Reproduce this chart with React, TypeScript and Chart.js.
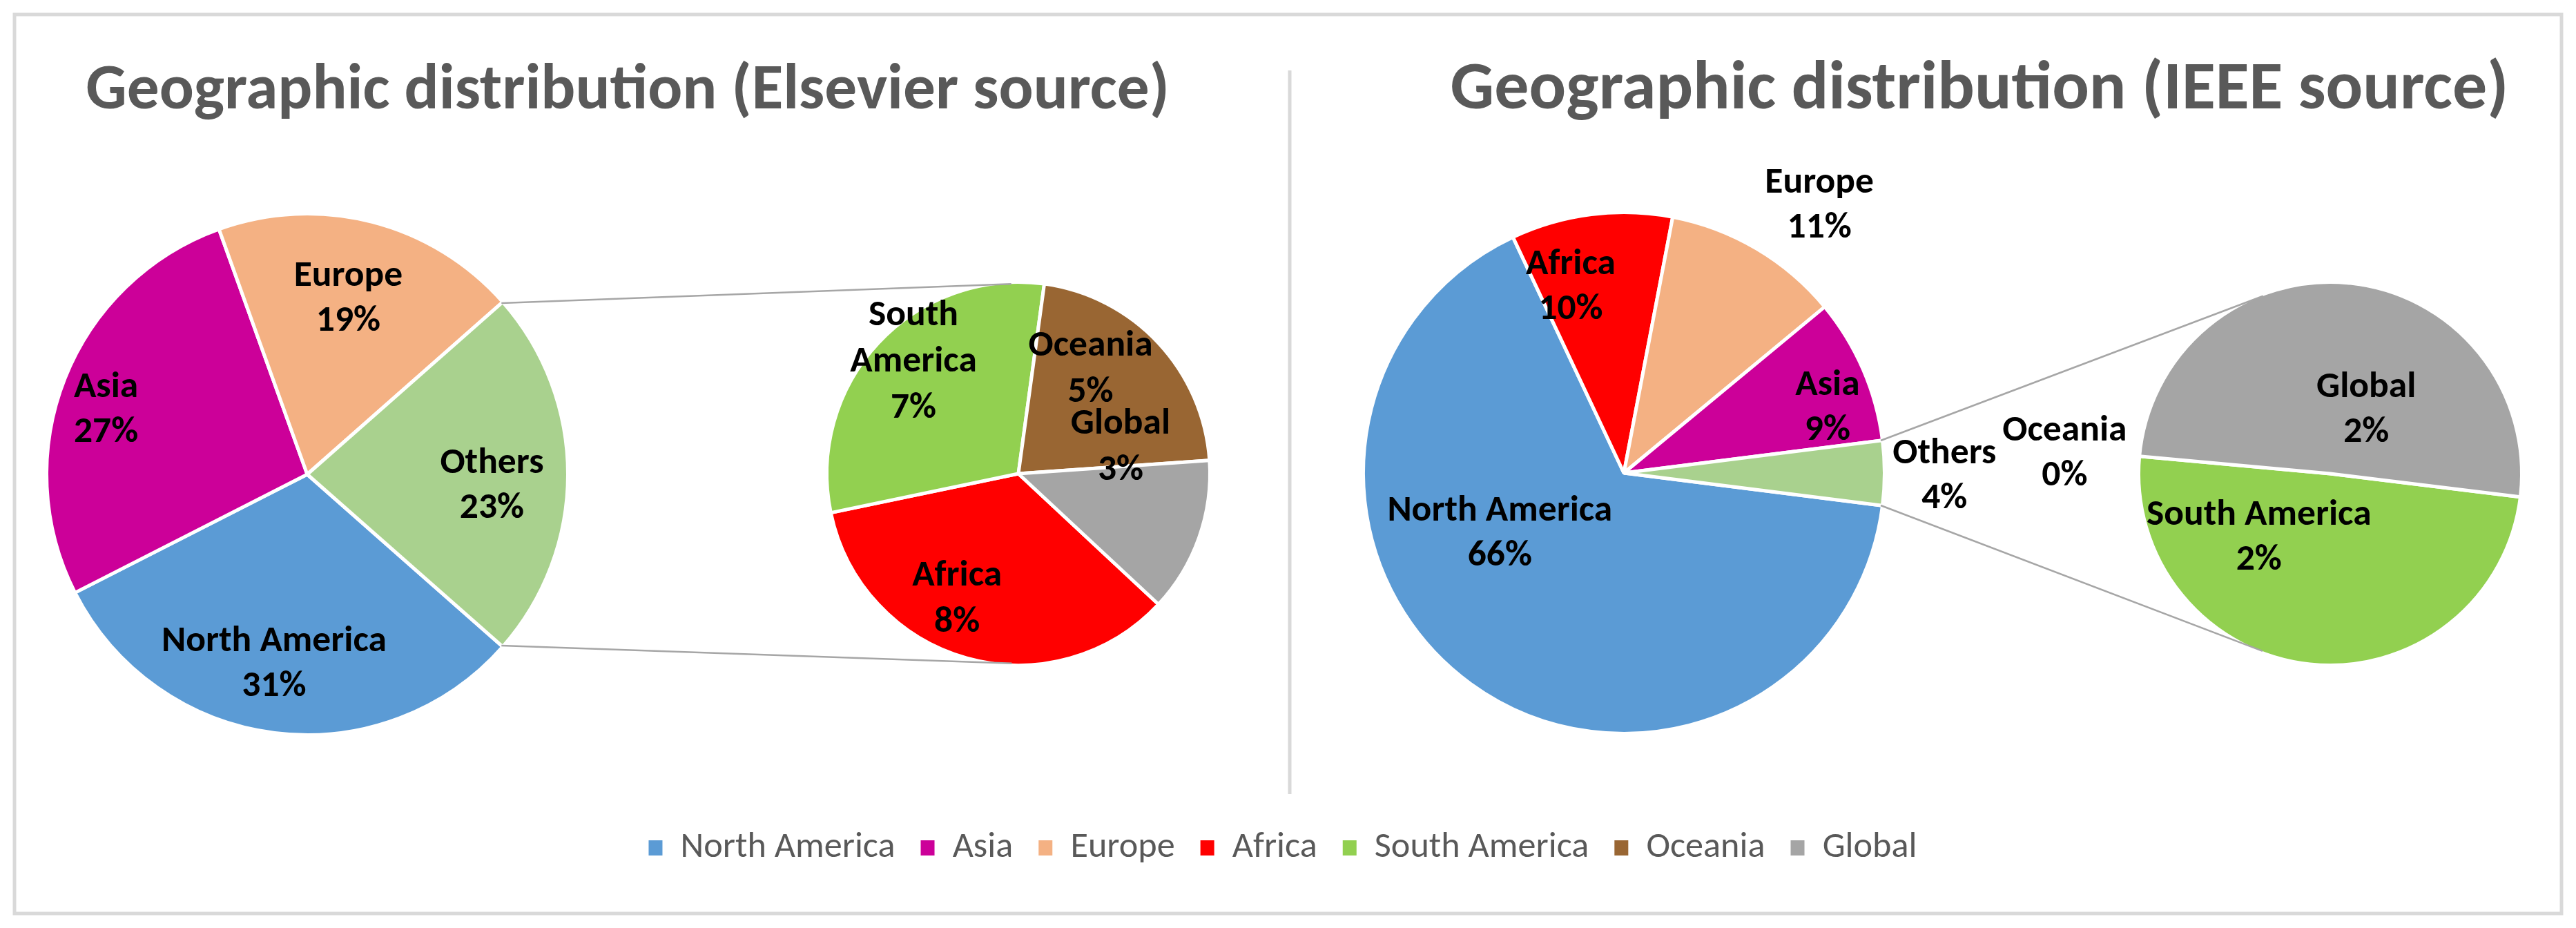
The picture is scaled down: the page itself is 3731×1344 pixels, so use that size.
import React, { useEffect, useRef } from "react";
import { Chart, registerables } from "chart.js";

Chart.register(...registerables);

const W = 3731;
const H = 1344;
const FONT = "Carlito, Lato, 'Open Sans', sans-serif";

// ---------- data ----------
const titles = [
  "Geographic distribution (Elsevier source)",
  "Geographic distribution (IEEE source)",
];

const elsPrimaryLabels = ["North America", "Asia", "Europe", "Others"];
const elsPrimaryValues = [31, 27, 19, 23];
const elsSecondaryLabels = ["Africa", "South America", "Oceania", "Global"];
const elsSecondaryValues = [8, 7, 5, 3];

const ieeePrimaryLabels = ["North America", "Africa", "Europe", "Asia", "Others"];
const ieeePrimaryValues = [66, 10, 11, 9, 4];
const ieeeSecondaryLabels = ["South America", "Oceania", "Global"];
const ieeeSecondaryValues = [1.98, 0, 2.02];

const legendLabels = ["North America", "Asia", "Europe", "Africa", "South America", "Oceania", "Global"];

const COLORS: Record<string, string> = {
  "North America": "#5B9BD5",
  Asia: "#CC0099",
  Europe: "#F4B183",
  Africa: "#FF0000",
  "South America": "#92D050",
  Oceania: "#996633",
  Global: "#A5A5A5",
  Others: "#A9D18E",
};

// label placement: [fraction of radius, angular shift from slice middle in degrees]
const elsPrimaryLabelPos = [[0.74, 2.7], [0.81, -4], [0.69, -1.2], [0.71, 3.7]];
const elsSecondaryLabelPos = [[0.73, 10.4], [0.8, 3.8], [0.66, -12.1], [0.55, -33.7]];
const ieeePrimaryLabelPos = [[0.53, 27.9], [0.74, -8.8], [1.27, 5.6], [0.82, 5.7], [1.23, 0.6]];
const ieeeSecondaryLabelPos = [[0.5, 42], [1.39, -0.9], [0.38, 23.6]];

type Geo = { cx: number; cy: number; r: number };
const GEO_ELS_MAIN: Geo = { cx: 445, cy: 687, r: 375 };
const GEO_ELS_SEC: Geo = { cx: 1475, cy: 686, r: 275 };
const GEO_IEEE_MAIN: Geo = { cx: 2352, cy: 685, r: 375 };
const GEO_IEEE_SEC: Geo = { cx: 3375, cy: 686, r: 275 };

const sum = (a: number[]) => a.reduce((s, v) => s + v, 0);

const mainRotation = (values: number[]) => {
  const total = sum(values);
  const before = sum(values.slice(0, -1));
  const others = values[values.length - 1];
  return (((90 - ((before + others / 2) / total) * 360) % 360) + 360) % 360;
};

const fitSize = (text: string, weight: string, target: number) => {
  const c = document.createElement("canvas").getContext("2d")!;
  c.font = `${weight} 100px ${FONT}`;
  return (100 * target) / c.measureText(text).width;
};

const makeLabelPlugin = (spec: {
  pos: number[][];
  wrap: number[];
  total: number;
  size: number;
  lineHeight: number;
}) => ({
  id: "sliceLabels",
  afterDatasetsDraw(chart: any) {
    const meta = chart.getDatasetMeta(0);
    const ctx = chart.ctx as CanvasRenderingContext2D;
    const labels = chart.data.labels as string[];
    const values = chart.data.datasets[0].data as number[];
    ctx.save();
    ctx.font = `bold ${spec.size}px ${FONT}`;
    ctx.fillStyle = "#000000";
    ctx.textAlign = "center";
    ctx.textBaseline = "middle";
    meta.data.forEach((arc: any, i: number) => {
      const { x, y, startAngle, endAngle, outerRadius } = arc.getProps(
        ["x", "y", "startAngle", "endAngle", "outerRadius"],
        true
      );
      const [frac, shift] = spec.pos[i];
      const a = (startAngle + endAngle) / 2 + (shift * Math.PI) / 180;
      const px = x + Math.cos(a) * outerRadius * frac;
      const py = y + Math.sin(a) * outerRadius * frac;
      const name = labels[i];
      const lines = (spec.wrap.includes(i) ? name.split(" ") : [name]).concat(
        `${Math.round((values[i] / spec.total) * 100)}%`
      );
      lines.forEach((t, k) =>
        ctx.fillText(t, px, py + (k - (lines.length - 1) / 2) * spec.lineHeight)
      );
    });
    ctx.restore();
  },
});

const makeConnectorPlugin = (getSec: () => Chart | null) => ({
  id: "connectors",
  afterDatasetsDraw(chart: any) {
    const sec = getSec();
    if (!sec) return;
    const m = chart.getDatasetMeta(0);
    const arc = m.data[m.data.length - 1];
    const { x, y, startAngle, endAngle, outerRadius } = arc.getProps(
      ["x", "y", "startAngle", "endAngle", "outerRadius"],
      true
    );
    const s = sec.getDatasetMeta(0).data[0] as any;
    const cx = s.x;
    const cy = s.y;
    const r = s.outerRadius - 2.5;
    const ctx = chart.ctx as CanvasRenderingContext2D;
    ctx.save();
    ctx.strokeStyle = "#A6A6A6";
    ctx.lineWidth = 2.5;
    const pts: [number, boolean][] = [
      [startAngle, true],
      [endAngle, false],
    ];
    pts.forEach(([ang, upper]) => {
      const px = x + Math.cos(ang) * (outerRadius - 2.5);
      const py = y + Math.sin(ang) * (outerRadius - 2.5);
      const d = Math.hypot(cx - px, cy - py);
      const base = Math.atan2(cy - py, cx - px);
      const off = Math.asin(Math.min(1, r / d));
      const dir = upper ? base - off : base + off;
      const L = Math.sqrt(Math.max(0, d * d - r * r));
      ctx.beginPath();
      ctx.moveTo(px, py);
      ctx.lineTo(px + Math.cos(dir) * L, py + Math.sin(dir) * L);
      ctx.stroke();
    });
    ctx.restore();
  },
});

const makeFramePlugin = (size0: number, size1: number) => ({
  id: "frame",
  beforeDraw(chart: any) {
    const ctx = chart.ctx as CanvasRenderingContext2D;
    ctx.save();
    ctx.strokeStyle = "#D9D9D9";
    ctx.lineWidth = 5;
    ctx.strokeRect(21, 21, W - 42, H - 42);
    ctx.beginPath();
    ctx.moveTo(1868, 102);
    ctx.lineTo(1868, 1150);
    ctx.stroke();
    ctx.fillStyle = "#595959";
    ctx.textAlign = "center";
    ctx.textBaseline = "alphabetic";
    ctx.font = `bold ${size0}px ${FONT}`;
    ctx.fillText(titles[0], 909, 157);
    ctx.font = `bold ${size1}px ${FONT}`;
    ctx.fillText(titles[1], 2867, 157);
    ctx.restore();
  },
});

const makePie = (
  canvas: HTMLCanvasElement,
  labels: string[],
  values: number[],
  rotation: number,
  geo: Geo,
  plugins: any[]
) =>
  new Chart(canvas, {
    type: "pie",
    data: {
      labels,
      datasets: [
        {
          data: values,
          backgroundColor: labels.map((l) => COLORS[l]),
          borderColor: "#FFFFFF",
          borderWidth: 5,
          hoverOffset: 0,
        } as any,
      ],
    },
    options: {
      responsive: false,
      animation: false,
      events: [],
      rotation,
      radius: geo.r + 2.5,
      layout: {
        padding: {
          left: geo.cx - geo.r - 20,
          right: W - geo.cx - geo.r - 20,
          top: geo.cy - geo.r - 20,
          bottom: H - geo.cy - geo.r - 20,
        },
      },
      plugins: {
        legend: { display: false },
        tooltip: { enabled: false },
        title: { display: false },
      },
    } as any,
    plugins,
  });

export default function App() {
  const r0 = useRef<HTMLCanvasElement>(null);
  const r1 = useRef<HTMLCanvasElement>(null);
  const r2 = useRef<HTMLCanvasElement>(null);
  const r3 = useRef<HTMLCanvasElement>(null);
  const r4 = useRef<HTMLCanvasElement>(null);

  useEffect(() => {
    const charts: Chart[] = [];
    const labelSize = fitSize("North America", "bold", 326);
    const lineHeight = 65;
    const legendSize = fitSize("North America", "normal", 311);
    const t0 = fitSize(titles[0], "bold", 1570);
    const t1 = fitSize(titles[1], "bold", 1533);
    const legendPad = 37;

    // legend + frame chart
    const legendValues = legendLabels.map((l) => {
      const i = elsPrimaryLabels.indexOf(l);
      if (i >= 0) return elsPrimaryValues[i];
      return elsSecondaryValues[elsSecondaryLabels.indexOf(l)];
    });
    charts.push(
      new Chart(r0.current!, {
        type: "pie",
        data: {
          labels: legendLabels,
          datasets: [
            {
              data: legendValues,
              backgroundColor: legendLabels.map((l) => COLORS[l]),
              borderWidth: 0,
              radius: 0,
            } as any,
          ],
        },
        options: {
          responsive: false,
          animation: false,
          events: [],
          radius: 0,
          layout: { padding: { top: 1228 - legendPad - legendSize / 2, left: 0, right: 15, bottom: 0 } },
          plugins: {
            legend: {
              display: true,
              position: "top",
              labels: {
                boxWidth: 20,
                boxHeight: 22,
                padding: legendPad,
                color: "#595959",
                font: { family: FONT, size: legendSize },
              },
            },
            tooltip: { enabled: false },
          },
        } as any,
        plugins: [makeFramePlugin(t0, t1)],
      })
    );

    const totalEls = sum(elsPrimaryValues);
    const totalIeee = sum(ieeePrimaryValues);

    const elsSec = makePie(r1.current!, elsSecondaryLabels, elsSecondaryValues, 133, GEO_ELS_SEC, [
      makeLabelPlugin({ pos: elsSecondaryLabelPos, wrap: [1], total: totalEls, size: labelSize, lineHeight: 67 }),
    ]);
    charts.push(elsSec);
    const elsMain = makePie(
      r2.current!,
      elsPrimaryLabels,
      elsPrimaryValues,
      mainRotation(elsPrimaryValues),
      GEO_ELS_MAIN,
      [
        makeConnectorPlugin(() => elsSec),
        makeLabelPlugin({ pos: elsPrimaryLabelPos, wrap: [], total: totalEls, size: labelSize, lineHeight }),
      ]
    );
    charts.push(elsMain);

    const ieeeSec = makePie(r3.current!, ieeeSecondaryLabels, ieeeSecondaryValues, 97, GEO_IEEE_SEC, [
      makeLabelPlugin({ pos: ieeeSecondaryLabelPos, wrap: [], total: totalIeee, size: labelSize, lineHeight }),
    ]);
    charts.push(ieeeSec);
    const ieeeMain = makePie(
      r4.current!,
      ieeePrimaryLabels,
      ieeePrimaryValues,
      mainRotation(ieeePrimaryValues),
      GEO_IEEE_MAIN,
      [
        makeConnectorPlugin(() => ieeeSec),
        makeLabelPlugin({ pos: ieeePrimaryLabelPos, wrap: [], total: totalIeee, size: labelSize, lineHeight }),
      ]
    );
    charts.push(ieeeMain);

    return () => charts.forEach((c) => c.destroy());
  }, []);

  const cs: React.CSSProperties = { position: "absolute", left: 0, top: 0, width: W, height: H };
  return (
    <div style={{ position: "absolute", left: 0, top: 0, width: W, height: H, background: "#FFFFFF", overflow: "hidden" }}>
      {[r0, r1, r2, r3, r4].map((r, i) => (
        <canvas key={i} ref={r} width={W} height={H} style={cs} />
      ))}
    </div>
  );
}
